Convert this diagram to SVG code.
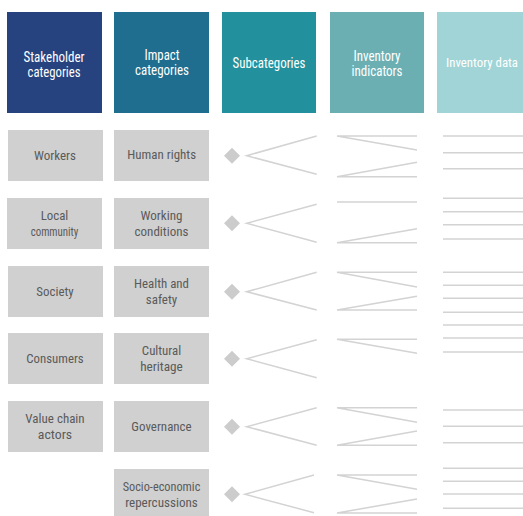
<svg xmlns="http://www.w3.org/2000/svg" width="523" height="516" viewBox="0 0 523 516">
<style>
.hd{fill:#ffffff;font-family:"Roboto Condensed",Roboto,"Liberation Sans",sans-serif;font-size:14px;text-anchor:middle}
.bx{fill:#d0d0d0}
.bt{fill:#5a5a5a;font-family:"Roboto Condensed",Roboto,"Liberation Sans",sans-serif;font-size:12.5px;text-anchor:middle}
.dm{fill:#cccccc}
.ln{stroke:#d3d3d3;stroke-width:1.5;fill:none}
</style>
<rect width="523" height="516" fill="#ffffff"/>
<g id="h-stakeholder">
<rect x="7" y="12" width="95" height="101" fill="#26437f"/>
<text class="hd" x="54" y="62" textLength="61" lengthAdjust="spacingAndGlyphs">Stakeholder</text>
<text class="hd" x="54" y="77" textLength="53" lengthAdjust="spacingAndGlyphs">categories</text>
</g>
<g id="h-impact">
<rect x="114" y="12" width="95" height="101" fill="#1f6e90"/>
<text class="hd" x="162" y="60" textLength="35" lengthAdjust="spacingAndGlyphs">Impact</text>
<text class="hd" x="162" y="75" textLength="54" lengthAdjust="spacingAndGlyphs">categories</text>
</g>
<g id="h-sub">
<rect x="222" y="12" width="94" height="101" fill="#23919d"/>
<text class="hd" x="269" y="68" textLength="73" lengthAdjust="spacingAndGlyphs">Subcategories</text>
</g>
<g id="h-indicators">
<rect x="330" y="12" width="94" height="101" fill="#6bafb3"/>
<text class="hd" x="377" y="61" textLength="47" lengthAdjust="spacingAndGlyphs">Inventory</text>
<text class="hd" x="377" y="76" textLength="51" lengthAdjust="spacingAndGlyphs">indicators</text>
</g>
<g id="h-data">
<rect x="437" y="12" width="86" height="101" fill="#a0d4d6"/>
<text class="hd" x="482" y="67" style="font-size:13px" textLength="72" lengthAdjust="spacingAndGlyphs">Inventory data</text>
</g>

<g id="s-workers"><rect class="bx" x="8" y="130" width="95" height="51"/><text class="bt" x="55" y="159.5" textLength="42" lengthAdjust="spacingAndGlyphs">Workers</text></g>
<g id="s-local"><rect class="bx" x="7" y="198" width="95" height="51"/><text class="bt" x="54.5" y="220" textLength="27.7" lengthAdjust="spacingAndGlyphs">Local</text><text class="bt" x="54.5" y="236" textLength="47.7" lengthAdjust="spacingAndGlyphs">community</text></g>
<g id="s-society"><rect class="bx" x="8" y="266" width="95" height="51"/><text class="bt" x="55" y="295.5" textLength="37.3" lengthAdjust="spacingAndGlyphs">Society</text></g>
<g id="s-consumers"><rect class="bx" x="8" y="333" width="95" height="51"/><text class="bt" x="55" y="362.5" textLength="57.3" lengthAdjust="spacingAndGlyphs">Consumers</text></g>
<g id="s-valuechain"><rect class="bx" x="8" y="401" width="95" height="51"/><text class="bt" x="55" y="423" textLength="59.3" lengthAdjust="spacingAndGlyphs">Value chain</text><text class="bt" x="55" y="439" textLength="34.3" lengthAdjust="spacingAndGlyphs">actors</text></g>

<g id="i-human"><rect class="bx" x="114" y="130" width="95" height="51"/><text class="bt" x="161.7" y="159" textLength="68.7" lengthAdjust="spacingAndGlyphs">Human rights</text></g>
<g id="i-working"><rect class="bx" x="114" y="198" width="95" height="51"/><text class="bt" x="161.5" y="220" textLength="42" lengthAdjust="spacingAndGlyphs">Working</text><text class="bt" x="161.5" y="236" textLength="54" lengthAdjust="spacingAndGlyphs">conditions</text></g>
<g id="i-health"><rect class="bx" x="114" y="266" width="95" height="51"/><text class="bt" x="161.5" y="287.5" textLength="55" lengthAdjust="spacingAndGlyphs">Health and</text><text class="bt" x="161.5" y="303.5" textLength="31.3" lengthAdjust="spacingAndGlyphs">safety</text></g>
<g id="i-cultural"><rect class="bx" x="114" y="333" width="95" height="51"/><text class="bt" x="161.5" y="355" textLength="39.3" lengthAdjust="spacingAndGlyphs">Cultural</text><text class="bt" x="161.5" y="371" textLength="42.7" lengthAdjust="spacingAndGlyphs">heritage</text></g>
<g id="i-governance"><rect class="bx" x="114" y="401" width="95" height="51"/><text class="bt" x="161.5" y="430.5" textLength="60.3" lengthAdjust="spacingAndGlyphs">Governance</text></g>
<g id="i-socio"><rect class="bx" x="114" y="469" width="95" height="51"/><text class="bt" x="161.5" y="491" textLength="77.7" lengthAdjust="spacingAndGlyphs">Socio-economic</text><text class="bt" x="161.5" y="507" textLength="72.7" lengthAdjust="spacingAndGlyphs">repercussions</text></g>

<g id="subcategories">
<polygon class="dm" points="232,147.7 240,155.7 232,163.7 224,155.7"/>
<polygon class="dm" points="232,215.3 240,223.3 232,231.3 224,223.3"/>
<polygon class="dm" points="232,283.7 240,291.7 232,299.7 224,291.7"/>
<polygon class="dm" points="232,350.7 240,358.7 232,366.7 224,358.7"/>
<polygon class="dm" points="232,418.7 240,426.7 232,434.7 224,426.7"/>
<polygon class="dm" points="232,486.3 240,494.3 232,502.3 224,494.3"/>
</g>

<g id="connectors" class="ln">
<polyline points="316.7,136 246.7,155.7 316.7,174.3"/>
<polyline points="316.7,204.3 246.7,223.3 316.7,242.3"/>
<polyline points="316.7,272.3 246.7,291.7 316.7,310"/>
<polyline points="316.7,339.7 246.7,358.7 316.7,377.7"/>
<polyline points="316.7,407.7 246.7,426.7 316.7,445.3"/>
<polyline points="314,475 245,494.3 314,512.7"/>
<path d="M417,136H337L417,150M417,162.3L337,176.7H417"/>
<path d="M337,202H417M417,228.7L337,242.7H417"/>
<path d="M417,272.3H337L417,287M417,296.3L337,310H417"/>
<path d="M417,339.3H337L417,353.3"/>
<path d="M417,407.7H337L417,422.3M417,431L337,445.3H417"/>
<path d="M417,475H337L417,489.3M417,499L337,513H417"/>
<path d="M443,136H523M443,152.7H523M443,168.7H523"/>
<path d="M443,198.3H523M443,211.7H523M443,224.7H523M443,239H523"/>
<path d="M443,272.3H523M443,285.3H523M443,298.3H523M443,312.3H523M443,325H523M443,338H523M443,352H523"/>
<path d="M443,410H523M443,426.3H523M443,442.7H523"/>
<path d="M443,468.3H523M443,481.3H523M443,494H523M443,508.3H523"/>
</g>
</svg>
